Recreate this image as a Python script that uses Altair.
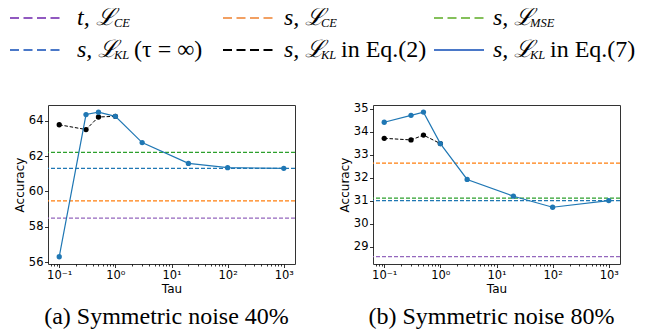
import altair as alt
import pandas as pd

# ---------------- data ----------------
tau = [0.1, 0.3, 0.5, 1, 3, 20, 100, 1000]
tau_eq2 = [0.1, 0.3, 0.5, 1]

a_eq7 = [56.30, 64.36, 64.49, 64.26, 62.77, 61.59, 61.35, 61.31]
a_eq2 = [63.78, 63.51, 64.22, 64.26]
b_eq7 = [34.42, 34.72, 34.86, 33.49, 31.93, 31.20, 30.72, 31.01]
b_eq2 = [33.72, 33.65, 33.86, 33.49]

base_names = ["t_CE", "s_CE", "s_MSE", "s_KL_inf"]
a_base = [58.49, 59.47, 62.21, 61.31]
b_base = [28.57, 32.64, 31.12, 31.01]
base_colors = ["#9467bd", "#ff7f0e", "#2ca02c", "#1f77b4"]

a_yticks = [56, 58, 60, 62, 64]
b_yticks = [29, 30, 31, 32, 33, 34, 35]
x_major = [0.1, 1, 10, 100, 1000]
x_minor = [0.07, 0.08, 0.09,
           0.2, 0.3, 0.4, 0.5, 0.6, 0.7, 0.8, 0.9,
           2, 3, 4, 5, 6, 7, 8, 9,
           20, 30, 40, 50, 60, 70, 80, 90,
           200, 300, 400, 500, 600, 700, 800, 900]
captions = ["(a) Symmetric noise 40%", "(b) Symmetric noise 80%"]

legend_main = ["t, ℒ", "s, ℒ", "s, ℒ", "s, ℒ", "s, ℒ", "s, ℒ"]
legend_sub = ["CE", "CE", "MSE", "KL", "KL", "KL"]
legend_tail = ["", "", "", "(τ = ∞)", "in Eq.(2)", "in Eq.(7)"]
legend_colors = ["#9159c0", "#f2a062", "#84c05a", "#4a78c8", "#000000", "#4a78c8"]
legend_solid = [0, 0, 0, 0, 0, 1]
legend_col = [0, 1, 2, 0, 1, 2]
legend_row = [0, 0, 0, 1, 1, 1]

# ---------------- layout constants (pixels relative to panel (a) plot) ----------------
LINE_X1 = "[-38, 175, 386]"
LINE_X2 = "[15, 225, 436]"
TEXT_X = "[29, 236, 445]"
ROW_Y = "[-87, -55]"

SERIF = "Liberation Serif, Times New Roman, Times, serif"
SANS = "DejaVu Sans"

XDOM = [10 ** -1.2, 10 ** 3.2]
major_test = "indexof([0.1, 1, 10, 100, 1000], datum.value) >= 0"
label_expr = ("datum.value == 0.1 ? '10⁻¹' : datum.value == 1 ? '10⁰' : "
              "datum.value == 10 ? '10¹' : datum.value == 100 ? '10²' : "
              "datum.value == 1000 ? '10³' : ''")


def panel(eq7, eq2, base, yticks, ydom, caption, with_legend):
    xs = alt.Scale(type="log", domain=XDOM, nice=False)
    ys = alt.Scale(domain=ydom, nice=False, zero=False)
    xaxis = alt.Axis(values=x_major + x_minor, labelExpr=label_expr, title="Tau",
                     grid=False, domain=False, labelOverlap=False, labelFlush=False,
                     tickSize={"condition": {"test": major_test, "value": 3.5}, "value": 2},
                     labelPadding=2, titlePadding=2)
    yaxis = alt.Axis(values=yticks, title="Accuracy", grid=False, domain=False,
                     tickSize=3.5, labelPadding=1.5, titlePadding=2, format="d")

    base_df = pd.DataFrame({"name": base_names, "acc": base, "color": base_colors})
    d7 = pd.DataFrame({"tau": tau, "acc": eq7})
    d2 = pd.DataFrame({"tau": tau_eq2, "acc": eq2})

    rules = alt.Chart(base_df).mark_rule(strokeDash=[4, 2], strokeWidth=1.2).encode(
        y=alt.Y("acc:Q", scale=ys, axis=yaxis),
        color=alt.Color("color:N", scale=None),
    )
    enc = dict(x=alt.X("tau:Q", scale=xs, axis=xaxis),
               y=alt.Y("acc:Q", scale=ys, axis=yaxis))
    l2 = alt.Chart(d2).mark_line(color="black", strokeDash=[3.5, 1.8], strokeWidth=1).encode(**enc)
    p2 = alt.Chart(d2).mark_circle(color="black", size=28, opacity=1).encode(**enc)
    l7 = alt.Chart(d7).mark_line(color="#1f77b4", strokeWidth=1.2).encode(**enc)
    p7 = alt.Chart(d7).mark_circle(color="#1f77b4", size=28, opacity=1).encode(**enc)

    layers = [rules, l2, p2, l7, p7]

    if with_legend:
        leg = pd.DataFrame({"main": legend_main, "sub": legend_sub, "tail": legend_tail,
                            "color": legend_colors, "solid": legend_solid,
                            "col": legend_col, "row": legend_row})
        lg = alt.Chart(leg).transform_calculate(
            x1=f"{LINE_X1}[datum.col]",
            x2=f"{LINE_X2}[datum.col]",
            tx=f"{TEXT_X}[datum.col]",
            sx=f"{TEXT_X}[datum.col] + 37",
            ttx=f"{TEXT_X}[datum.col] + 57",
            ly=f"{ROW_Y}[datum.row]",
            sy=f"{ROW_Y}[datum.row] + 5",
        )
        rule_enc = dict(x=alt.X("x1:Q", scale=None), x2="x2:Q",
                        y=alt.Y("ly:Q", scale=None),
                        color=alt.Color("color:N", scale=None))
        dashed = lg.transform_filter("datum.solid == 0").mark_rule(
            strokeWidth=2, strokeDash=[9, 4.5]).encode(**rule_enc)
        solid = lg.transform_filter("datum.solid == 1").mark_rule(
            strokeWidth=2).encode(**rule_enc)
        main = lg.mark_text(align="left", baseline="middle", font=SERIF,
                            fontSize=24, fontStyle="italic", color="black").encode(
            x=alt.X("tx:Q", scale=None), y=alt.Y("ly:Q", scale=None), text="main:N")
        sub = lg.mark_text(align="left", baseline="middle", font=SERIF,
                           fontSize=12.5, fontStyle="italic", color="black").encode(
            x=alt.X("sx:Q", scale=None), y=alt.Y("sy:Q", scale=None), text="sub:N")
        tail = lg.transform_filter("datum.tail != ''").mark_text(
            align="left", baseline="middle", font=SERIF,
            fontSize=24, color="black").encode(
            x=alt.X("ttx:Q", scale=None), y=alt.Y("ly:Q", scale=None), text="tail:N")
        layers += [dashed, solid, main, sub, tail]

    return alt.layer(*layers).properties(
        width=247, height=159,
        title=alt.TitleParams(caption, orient="bottom", frame="group", anchor="middle",
                              font=SERIF, fontSize=24, fontWeight="normal",
                              color="black", offset=11, dx=-5),
    )


pa = panel(a_eq7, a_eq2, a_base, a_yticks, [55.89, 64.9], captions[0], True)
pb = panel(b_eq7, b_eq2, b_base, b_yticks, [28.25, 35.17], captions[1], False)

chart = alt.hconcat(pa, pb, spacing=78, bounds="flush").properties(
    padding={"left": 0, "top": -3, "right": 0, "bottom": 0}
).configure_view(stroke="#333333", strokeWidth=1).configure_axis(
    labelFont=SANS, labelFontSize=11.5, labelColor="black",
    titleFont=SANS, titleFontSize=12, titleFontWeight="normal", titleColor="black",
    tickColor="black", tickWidth=0.8,
)

chart.save("out.html", embed_options={"renderer": "svg", "actions": False})
